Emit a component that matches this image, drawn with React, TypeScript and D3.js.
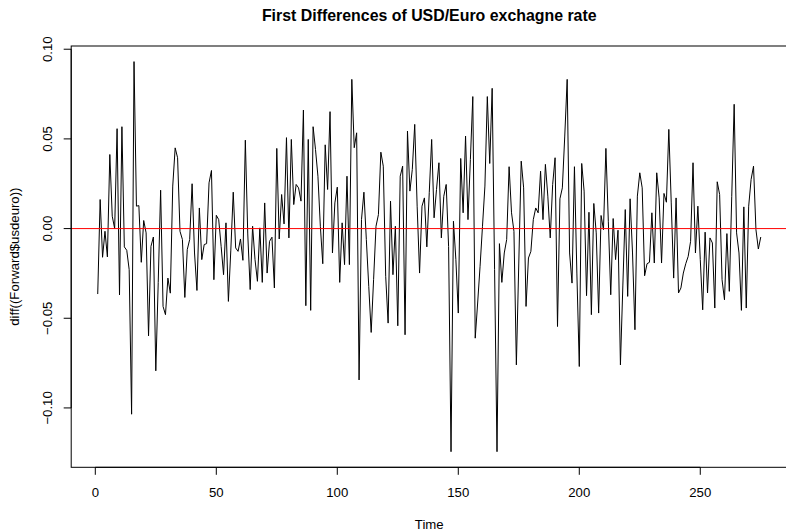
import React from "react";
import * as d3 from "d3";

const TITLE = "First Differences of USD/Euro exchagne rate";
const X_LABEL = "Time";
const Y_LABEL = "diff((Forward$usdeuro))";
const START_TIME = 1;

const diffValues: number[] = [
  -0.0365, 0.0162, -0.016, -0.0015, -0.0158, 0.0413, 0.0069, 0.0, 0.0557, -0.037,
  0.0568, -0.0102, -0.0121, -0.0229, -0.1035, 0.0931, 0.0125, 0.0128, -0.0188, 0.0045,
  -0.0024, -0.0598, -0.0099, -0.0047, -0.0793, -0.03, 0.0214, -0.0434, -0.048, -0.0276,
  -0.036, 0.0237, 0.045, 0.0395, -0.0015, -0.0061, -0.0384, -0.0117, -0.0061, 0.025,
  -0.0136, -0.0345, 0.0115, -0.0173, -0.0089, -0.0084, 0.0255, 0.0324, -0.0285, 0.0074,
  0.005, -0.0099, -0.0257, 0.0032, -0.0406, -0.012, 0.0203, -0.0108, -0.0127, -0.0058,
  -0.0177, 0.0493, -0.003, -0.034, 0.0013, -0.0173, -0.0294, 0.0004, -0.03, 0.0143,
  -0.0248, -0.0071, -0.0048, -0.0331, 0.0447, -0.0058, 0.019, 0.0026, 0.0507, -0.0052,
  0.0497, 0.0134, 0.0246, 0.0227, 0.0153, 0.0661, -0.043, 0.0497, -0.0456, 0.0568,
  0.0441, 0.0292, 0.0013, -0.0196, 0.0467, 0.0218, 0.0652, -0.0136, 0.0143, 0.0231,
  -0.03, 0.0032, -0.0201, 0.0292, -0.0201, 0.0832, 0.0451, 0.0534, -0.0844, 0.005,
  0.0203, -0.0061, -0.0322, -0.0579, -0.0285, 0.0013, 0.0078, 0.0426, 0.0348, -0.0266,
  -0.0527, 0.0153, -0.0257, 0.0013, -0.0542, 0.0292, 0.0348, -0.0592, 0.0544, 0.0209,
  0.033, 0.0581, 0.0125, -0.0248, 0.0125, 0.0171, -0.0102, 0.02, 0.0497, 0.006,
  0.0218, 0.0367, -0.0052, 0.018, 0.0246, -0.01, -0.1244, 0.0041, -0.0173, -0.0471,
  0.0391, 0.0088, 0.0516, 0.005, 0.0385, 0.0736, -0.0611, -0.0415, -0.021, 0.0013,
  0.0237, 0.0736, 0.0363, 0.0782, -0.0229, -0.1244, -0.0084, -0.03, -0.0136, -0.0061,
  0.0345, 0.0088, -0.0015, -0.076, -0.0192, 0.0376, 0.0227, -0.0434, -0.0164, -0.0127,
  0.005, 0.0115, 0.0088, 0.032, 0.005, 0.0358, 0.0181, -0.0052, 0.0246, 0.0395,
  -0.0546, 0.0166, 0.0227, 0.0516, 0.0832, -0.0136, -0.0304, 0.0345, -0.0248, -0.0769,
  0.0363, 0.0209, -0.0374, 0.0091, -0.048, 0.014, -0.0024, -0.0471, 0.0073, -0.0006,
  0.0447, 0.0041, -0.0369, 0.0056, -0.0173, -0.0009, -0.076, -0.032, 0.0106, -0.0378,
  0.0166, -0.0136, -0.0564, 0.0181, 0.0311, 0.0227, -0.0263, -0.0196, -0.0188, 0.0088,
  -0.0192, 0.0311, 0.0171, -0.0192, 0.0196, 0.0147, 0.0553, 0.0143, -0.0276, 0.0171,
  -0.0359, -0.0331, -0.0248, -0.0196, -0.0155, -0.0071, 0.0367, -0.0136, 0.0125, -0.0173,
  -0.0453, -0.002, -0.0359, -0.0052, -0.008, -0.0443, 0.0261, 0.019, -0.0285, -0.0397,
  -0.0028, -0.035, 0.018, 0.0693, -0.0024, -0.0136, -0.0456, 0.0121, -0.0443, 0.0125,
  0.0274, 0.0348, -0.0006, -0.0114, -0.0047,
];

const xTicks: number[] = [0, 50, 100, 150, 200, 250];
const xTickLabels: string[] = ["0", "50", "100", "150", "200", "250"];
const yTicks: number[] = [-0.1, -0.05, 0, 0.05, 0.1];
const yTickLabels: string[] = ["\u22120.10", "\u22120.05", "0.00", "0.05", "0.10"];
const refLineValue = 0;

const W = 786;
const H = 532;
const PLOT_LEFT = 71.2;
const PLOT_RIGHT = 787.3;
const PLOT_TOP = 46;
const PLOT_BOTTOM = 467.3;
const LINE_H = 16.3;
const FONT = "'Liberation Sans', Arial, Helvetica, sans-serif";

export default function App() {
  const n = diffValues.length;
  const times = diffValues.map((_, i) => START_TIME + i);
  const t0 = times[0];
  const t1 = times[n - 1];
  const tPad = 0.04 * (t1 - t0);
  const [ymin, ymax] = d3.extent(diffValues) as [number, number];
  const yPad = 0.04 * (ymax - ymin);

  const x = d3.scaleLinear().domain([t0 - tPad, t1 + tPad]).range([PLOT_LEFT, PLOT_RIGHT]);
  const y = d3.scaleLinear().domain([ymin - yPad, ymax + yPad]).range([PLOT_BOTTOM, PLOT_TOP]);

  const line = d3
    .line<number>()
    .x((_, i) => x(times[i]))
    .y((d) => y(d));

  const pathD = line(diffValues) || "";
  const tickLen = 7.5;
  const midY = (PLOT_TOP + PLOT_BOTTOM) / 2;
  const midX = (PLOT_LEFT + PLOT_RIGHT) / 2;

  // R-style margin text: side 1 baseline at (line + 0.8) lines, side 2 baseline at (line + 0.2) lines
  const xTickBase = PLOT_BOTTOM + 1.8 * LINE_H;
  const xTitleBase = PLOT_BOTTOM + 3.8 * LINE_H;
  const yTickBase = PLOT_LEFT - 1.2 * LINE_H;
  const yTitleBase = PLOT_LEFT - 3.2 * LINE_H;

  return (
    <svg
      width={W}
      height={H}
      viewBox={`0 0 ${W} ${H}`}
      style={{ position: "absolute", left: 0, top: 0, display: "block", background: "#fff" }}
      fontFamily={FONT}
    >
      <rect x={0} y={0} width={W} height={H} fill="#fff" />
      <text x={midX} y={15} dy="0.35em" textAnchor="middle" fontWeight="bold" fontSize={15.9} fill="#000">
        {TITLE}
      </text>

      <path d={pathD} fill="none" stroke="#000" strokeWidth={1} strokeLinejoin="round" />

      <line
        x1={PLOT_LEFT}
        x2={PLOT_RIGHT}
        y1={y(refLineValue)}
        y2={y(refLineValue)}
        stroke="#ff0000"
        strokeWidth={1}
      />

      <rect
        x={PLOT_LEFT}
        y={PLOT_TOP}
        width={PLOT_RIGHT - PLOT_LEFT}
        height={PLOT_BOTTOM - PLOT_TOP}
        fill="none"
        stroke="#000"
        strokeWidth={1}
      />

      {/* x axis */}
      <line x1={x(xTicks[0])} x2={x(xTicks[xTicks.length - 1])} y1={PLOT_BOTTOM} y2={PLOT_BOTTOM} stroke="#000" />
      {xTicks.map((t, i) => (
        <g key={"xt" + i}>
          <line x1={x(t)} x2={x(t)} y1={PLOT_BOTTOM} y2={PLOT_BOTTOM + tickLen} stroke="#000" />
          <text x={x(t)} y={xTickBase} textAnchor="middle" fontSize={13.2} fill="#000">
            {xTickLabels[i]}
          </text>
        </g>
      ))}
      <text x={midX} y={xTitleBase} textAnchor="middle" fontSize={13.2} fill="#000">
        {X_LABEL}
      </text>

      {/* y axis */}
      <line x1={PLOT_LEFT} x2={PLOT_LEFT} y1={y(yTicks[0])} y2={y(yTicks[yTicks.length - 1])} stroke="#000" />
      {yTicks.map((v, i) => (
        <g key={"yt" + i}>
          <line x1={PLOT_LEFT - tickLen} x2={PLOT_LEFT} y1={y(v)} y2={y(v)} stroke="#000" />
          <text
            transform={`translate(${yTickBase},${y(v)}) rotate(-90)`}
            textAnchor="middle"
            fontSize={13.2}
            fill="#000"
          >
            {yTickLabels[i]}
          </text>
        </g>
      ))}
      <text
        transform={`translate(${yTitleBase},${midY}) rotate(-90)`}
        textAnchor="middle"
        fontSize={13.2}
        fill="#000"
      >
        {Y_LABEL}
      </text>
    </svg>
  );
}
